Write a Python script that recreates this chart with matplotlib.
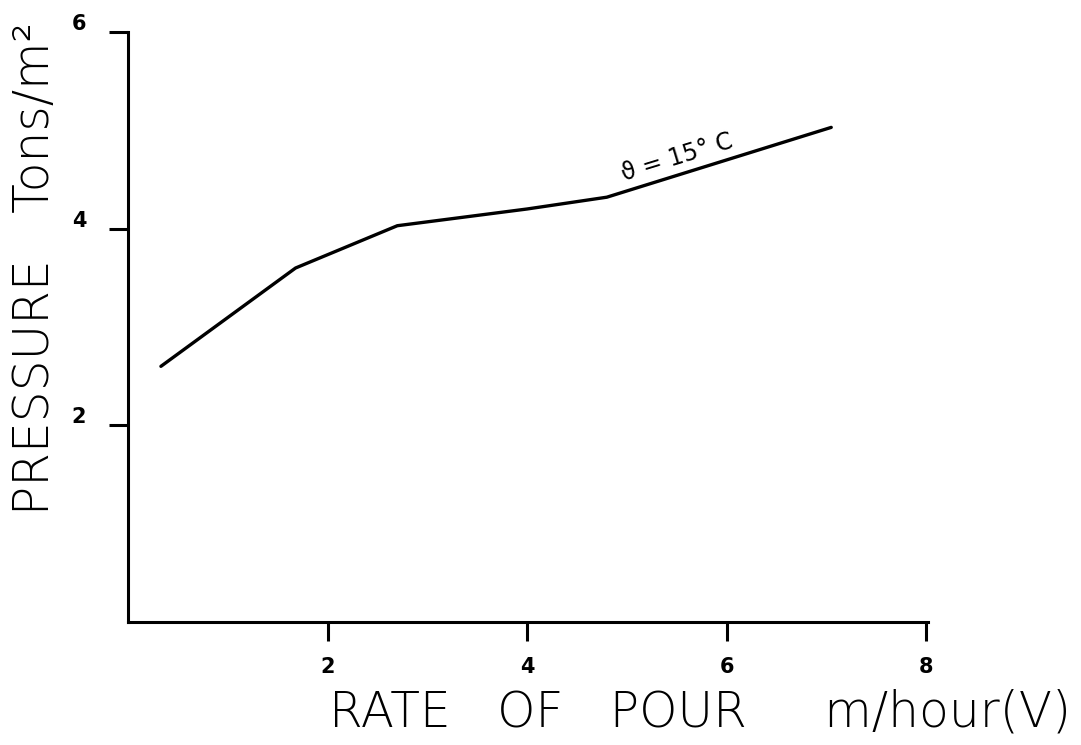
import matplotlib
matplotlib.use("Agg")
import matplotlib.pyplot as plt
from matplotlib.transforms import ScaledTranslation

# Pour rate (m/hour) and lateral pressure (tons/m^2) at 15 °C
rate = [0.33, 1.68, 2.7, 4.0, 4.8, 7.05]
pressure = [2.6, 3.6, 4.03, 4.2, 4.32, 5.03]

x_ticks = [2, 4, 6, 8]
y_ticks = [2, 4, 6]

fig = plt.figure(figsize=(10.81, 7.45), dpi=100)
ax = fig.add_axes([128 / 1081, 1 - 622 / 745, 800 / 1081, 590 / 745])

ax.plot(rate, pressure, color="black", lw=2.4, solid_capstyle="round")

ax.set_xlim(0, 8.02)
ax.set_ylim(0, 6.0)
for side in ("top", "right"):
    ax.spines[side].set_visible(False)
for side in ("left", "bottom"):
    ax.spines[side].set_linewidth(2.2)

ax.set_xticks(x_ticks)
ax.set_yticks(y_ticks)
ax.tick_params(axis="x", direction="out", length=14, width=2.2, pad=11,
               labelsize=15)
ax.tick_params(axis="y", direction="out", length=14, width=2.2, pad=16,
               labelsize=15)
for lab in ax.get_xticklabels() + ax.get_yticklabels():
    lab.set_fontweight("bold")
# y tick numbers sit slightly above their ticks
lift = ScaledTranslation(0, 0.10, fig.dpi_scale_trans)
for lab in ax.get_yticklabels():
    lab.set_transform(lab.get_transform() + lift)

label_font = dict(family="DejaVu Sans", fontweight="light", fontsize=35)
ax.set_xlabel("RATE   OF   POUR     m/hour(V)", **label_font)
ax.xaxis.set_label_coords(0.715, -0.112)
ax.set_ylabel("PRESSURE   Tons/m²", **label_font)
ax.yaxis.set_label_coords(-0.086, 0.6)

ax.text(5.5, 4.72, "ϑ = 15° C", rotation=17, fontsize=17,
        ha="center", va="center")

fig.savefig("out.png", dpi=100, facecolor="white")
